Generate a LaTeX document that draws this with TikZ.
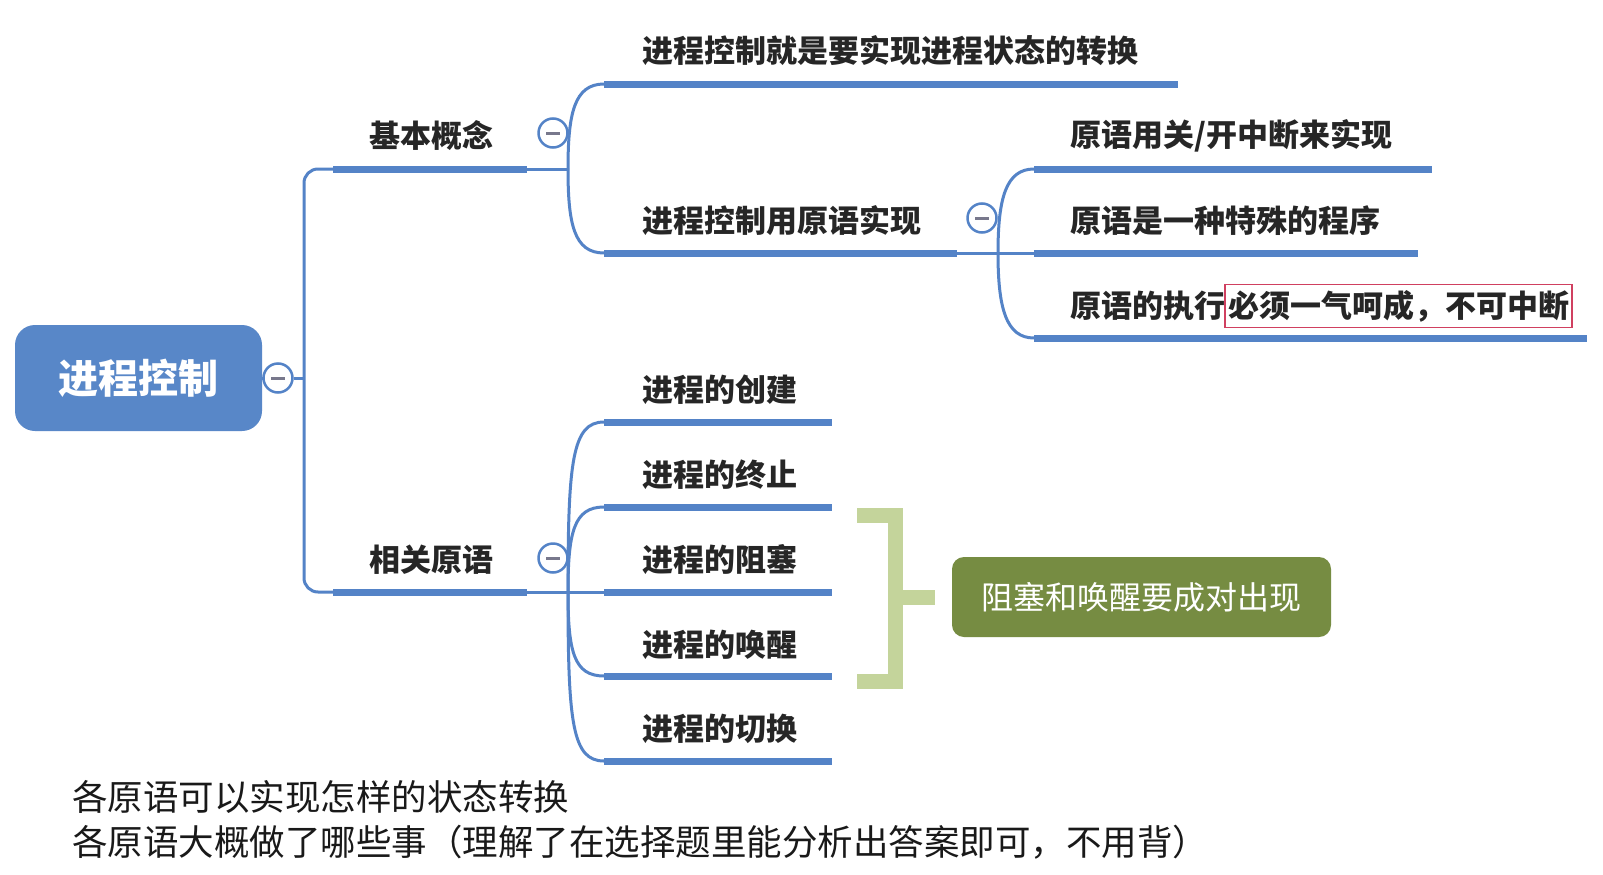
\documentclass[tikz,border=0pt]{standalone}
\usepackage{fontspec}
\newfontfamily\cjk{Noto Sans CJK SC}
\definecolor{mblue}{RGB}{84,131,199}
\definecolor{rootblue}{RGB}{88,135,200}
\definecolor{lgreen}{RGB}{196,212,155}
\definecolor{dgreen}{RGB}{118,140,66}
\definecolor{mred}{RGB}{208,64,96}
\definecolor{mgray}{RGB}{120,120,140}
\begin{document}
\begin{tikzpicture}[x=1pt,y=-1pt]
\tikzset{
  lbl/.style={font=\cjk\bfseries\fontsize{31}{35}\selectfont, anchor=west, inner sep=0pt, text=black!85},
  uline/.style={line width=7pt, draw=mblue},
  conn/.style={line width=3pt, draw=mblue},
  colbtn/.style={circle, draw=mblue, line width=2.5pt, fill=white, minimum size=29pt, inner sep=0pt,
    path picture={\draw[mgray, line width=3pt] ([xshift=-7pt]path picture bounding box.center) -- ([xshift=7pt]path picture bounding box.center);}},
  note/.style={font=\cjk\fontsize{35.5}{40}\selectfont, anchor=west, inner sep=0pt, text=black!90},
}
\useasboundingbox[fill=white] (0,0) rectangle (1603,875);

% root
\node[fill=rootblue, rounded corners=20pt, minimum width=247pt, minimum height=106pt, inner sep=0pt,
  font=\cjk\bfseries\fontsize{40}{44}\selectfont, text=white] (root) at (138.5,378) {进程控制};
\node[colbtn] (c0) at (278,378) {};
\coordinate (tr) at (304,378);
\draw[conn] (root.east) -- (c0.west);
\draw[conn] (c0.east) -- (tr);

% level 1
\coordinate (k1s) at (333,169); \coordinate (k1e) at (527,169);
\coordinate (k2s) at (333,592); \coordinate (k2e) at (527,592);
\draw[conn, rounded corners=14pt] (k1s) -- (k1s -| tr) -- (k2s -| tr) -- (k2s);
\draw[uline] (k1s) -- (k1e);
\draw[uline] (k2s) -- (k2e);
\node[lbl] (k1) at (369,136) {基本概念};
\node[lbl] (k2) at (369,560) {相关原语};
\node[colbtn] (c1) at (553,133) {};
\node[colbtn] (c3) at (553,558) {};

% forks
\coordinate (f1) at (568,169);
\coordinate (f3) at (568,592);
\draw[conn] (k1e) -- (f1);
\draw[conn] (k2e) -- (f3);

% basic concept children
\coordinate (a1s) at (604,84);  \coordinate (a1e) at (1178,84);
\coordinate (a2s) at (604,253); \coordinate (a2e) at (957,253);
\draw[conn] (f1) .. controls +(0,-55) and +(-30,0) .. (a1s);
\draw[conn] (f1) .. controls +(0,55) and +(-30,0) .. (a2s);
\draw[uline] (a1s) -- (a1e);
\draw[uline] (a2s) -- (a2e);
\node[lbl] (a1) at (642,51) {进程控制就是要实现进程状态的转换};
\node[lbl] (a2) at (642,221) {进程控制用原语实现};
\node[colbtn] (c2) at (982,218) {};

% primitive children
\coordinate (f2) at (998,253);
\draw[conn] (a2e) -- (f2);
\coordinate (p1s) at (1034,169); \coordinate (p1e) at (1432,169);
\coordinate (p2s) at (1034,253); \coordinate (p2e) at (1418,253);
\coordinate (p3s) at (1034,338); \coordinate (p3e) at (1587,338);
\draw[conn] (f2) .. controls +(0,-55) and +(-28,0) .. (p1s);
\draw[conn] (f2) -- (p2s);
\draw[conn] (f2) .. controls +(0,55) and +(-28,0) .. (p3s);
\draw[uline] (p1s) -- (p1e);
\draw[uline] (p2s) -- (p2e);
\draw[uline] (p3s) -- (p3e);
\node[lbl] (p1) at (1070,136) {原语用关/开中断来实现};
\node[lbl] (p2) at (1070,221) {原语是一种特殊的程序};
\node[lbl] (p3) at (1070,306) {原语的执行};
\node[lbl, anchor=west, draw=mred, line width=1.2pt, inner xsep=3pt, minimum height=43pt] (p3b) at ([xshift=-1pt]p3.east) {必须一气呵成，不可中断};

% related primitives children
\coordinate (r1s) at (604,422); \coordinate (r1e) at (832,422);
\coordinate (r2s) at (604,507); \coordinate (r2e) at (832,507);
\coordinate (r3s) at (604,592); \coordinate (r3e) at (832,592);
\coordinate (r4s) at (604,676); \coordinate (r4e) at (832,676);
\coordinate (r5s) at (604,761); \coordinate (r5e) at (832,761);
\draw[conn] (f3) .. controls +(0,-130) and +(-32,0) .. (r1s);
\draw[conn] (f3) .. controls +(0,-60) and +(-30,0) .. (r2s);
\draw[conn] (f3) -- (r3s);
\draw[conn] (f3) .. controls +(0,60) and +(-30,0) .. (r4s);
\draw[conn] (f3) .. controls +(0,130) and +(-32,0) .. (r5s);
\foreach \i in {1,...,5} {\draw[uline] (r\i s) -- (r\i e);}
\node[lbl] (r1) at (642,390) {进程的创建};
\node[lbl] (r2) at (642,475) {进程的终止};
\node[lbl] (r3) at (642,560) {进程的阻塞};
\node[lbl] (r4) at (642,645) {进程的唤醒};
\node[lbl] (r5) at (642,729) {进程的切换};

% bracket and summary
\coordinate (bt) at (857,515.5);
\coordinate (bb) at (857,681);
\coordinate (bm) at (895.5,597);
\draw[lgreen, line width=15pt] (bt) -- (bt -| bm) -- (bb -| bm) -- (bb);
\node[fill=dgreen, rounded corners=12pt, minimum width=379pt, minimum height=80pt, inner sep=0pt,
  font=\cjk\fontsize{32}{36}\selectfont, text=white] (sum) at (1141.5,597) {阻塞和唤醒要成对出现};
\draw[lgreen, line width=15pt] (bm) -- ([xshift=-17pt]sum.west);

% notes
\node[note] (n1) at (72,797) {各原语可以实现怎样的状态转换};
\node[note] (n2) at (72,842) {各原语大概做了哪些事（理解了在选择题里能分析出答案即可，不用背）};
\end{tikzpicture}
\end{document}
